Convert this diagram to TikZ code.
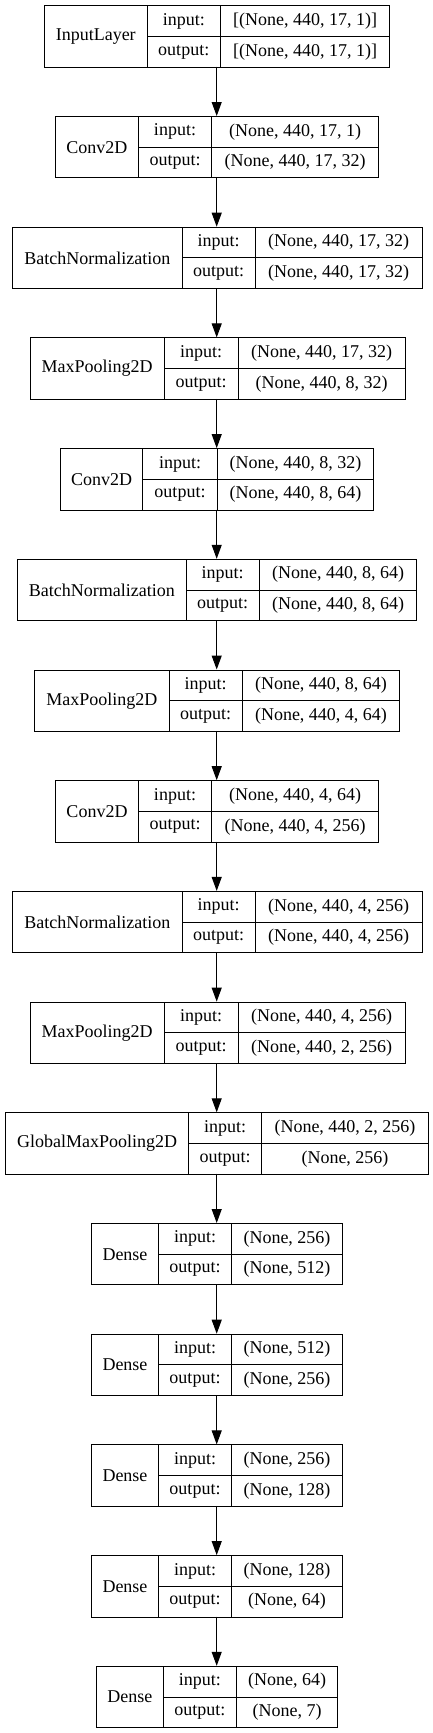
\documentclass[tikz,border=0pt]{standalone}
\usepackage{fontspec}
\setmainfont{Liberation Serif}
\usetikzlibrary{arrows.meta}
\tikzset{
  cell/.style={draw=black, line width=1pt, inner sep=0pt, anchor=north west,
    font=\fontsize{18}{20}\selectfont, text=black},
  arr/.style={draw=black, line width=1pt, -{Triangle[length=14pt,width=10pt]}}
}
\newcommand\layerbox[9]{%
  \node[cell, minimum width={(#4-#3)*1pt}, minimum height=61.4pt] (#1) at (#3,-#2) {#7};
  \node[cell, minimum width={(#5-#4)*1pt}, minimum height=30.7pt] (#1ia) at (#4,-#2) {input:};
  \node[cell, minimum width={(#6-#5)*1pt}, minimum height=30.7pt] (#1ib) at (#5,-#2) {#8};
  \node[cell, minimum width={(#5-#4)*1pt}, minimum height=30.7pt] (#1oa) at (#4,-#2-30.7) {output:};
  \node[cell, minimum width={(#6-#5)*1pt}, minimum height=30.7pt] (#1ob) at (#5,-#2-30.7) {#9};
  \coordinate (#1t) at (216.7,-#2);
  \coordinate (#1b) at (216.7,-#2-61.4);
}
\begin{document}
\begin{tikzpicture}[x=1pt,y=1pt]
\useasboundingbox (0,0) rectangle (433,-1733);
\layerbox{La}{5.3}{44}{146.5}{220}{389.3}{InputLayer}{[(None, 440, 17, 1)]}{[(None, 440, 17, 1)]}
\layerbox{Lb}{116.0}{55}{137.7}{211.3}{378}{Conv2D}{(None, 440, 17, 1)}{(None, 440, 17, 32)}
\layerbox{Lc}{226.7}{12}{181.7}{254.7}{421.7}{BatchNormalization}{(None, 440, 17, 32)}{(None, 440, 17, 32)}
\layerbox{Ld}{337.4}{29.7}{163.7}{237.7}{404.7}{MaxPooling2D}{(None, 440, 17, 32)}{(None, 440, 8, 32)}
\layerbox{Le}{448.1}{60}{142.3}{216.7}{373.3}{Conv2D}{(None, 440, 8, 32)}{(None, 440, 8, 64)}
\layerbox{Lf}{558.8}{17}{185.7}{258.7}{416.4}{BatchNormalization}{(None, 440, 8, 64)}{(None, 440, 8, 64)}
\layerbox{Lg}{669.5}{34}{168.7}{241.7}{399.3}{MaxPooling2D}{(None, 440, 8, 64)}{(None, 440, 4, 64)}
\layerbox{Lh}{780.2}{55.3}{137.7}{211.3}{378}{Conv2D}{(None, 440, 4, 64)}{(None, 440, 4, 256)}
\layerbox{Li}{890.9}{12}{181.7}{254.7}{421.7}{BatchNormalization}{(None, 440, 4, 256)}{(None, 440, 4, 256)}
\layerbox{Lj}{1001.6}{29.7}{163.7}{237.7}{404.7}{MaxPooling2D}{(None, 440, 4, 256)}{(None, 440, 2, 256)}
\layerbox{Lk}{1112.3}{5}{188.3}{261}{428}{GlobalMaxPooling2D}{(None, 440, 2, 256)}{(None, 256)}
\layerbox{Ll}{1223.0}{91}{158}{231}{342}{Dense}{(None, 256)}{(None, 512)}
\layerbox{Lm}{1333.7}{91}{158}{231}{342}{Dense}{(None, 512)}{(None, 256)}
\layerbox{Ln}{1444.4}{91}{158}{231}{342}{Dense}{(None, 256)}{(None, 128)}
\layerbox{Lo}{1555.1}{91}{158}{231}{342}{Dense}{(None, 128)}{(None, 64)}
\layerbox{Lp}{1665.8}{96}{162.7}{236}{337.3}{Dense}{(None, 64)}{(None, 7)}
\draw[arr] (Lab) -- (Lbt);
\draw[arr] (Lbb) -- (Lct);
\draw[arr] (Lcb) -- (Ldt);
\draw[arr] (Ldb) -- (Let);
\draw[arr] (Leb) -- (Lft);
\draw[arr] (Lfb) -- (Lgt);
\draw[arr] (Lgb) -- (Lht);
\draw[arr] (Lhb) -- (Lit);
\draw[arr] (Lib) -- (Ljt);
\draw[arr] (Ljb) -- (Lkt);
\draw[arr] (Lkb) -- (Llt);
\draw[arr] (Llb) -- (Lmt);
\draw[arr] (Lmb) -- (Lnt);
\draw[arr] (Lnb) -- (Lot);
\draw[arr] (Lob) -- (Lpt);
\end{tikzpicture}
\end{document}
